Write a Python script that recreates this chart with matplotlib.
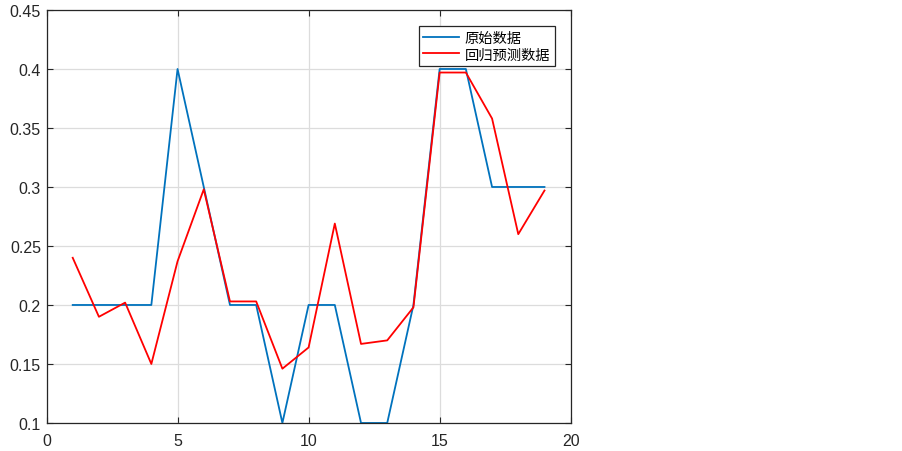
import matplotlib
matplotlib.use("Agg")
import matplotlib.pyplot as plt

plt.rcParams['font.family'] = ['Liberation Sans', 'Noto Sans CJK SC', 'DejaVu Sans']

x = list(range(1, 20))
orig = [0.2, 0.2, 0.2, 0.2, 0.4, 0.3, 0.2, 0.2, 0.1, 0.2,
        0.2, 0.1, 0.1, 0.2, 0.4, 0.4, 0.3, 0.3, 0.3]
pred = [0.240, 0.190, 0.202, 0.150, 0.237, 0.298, 0.203, 0.203, 0.146, 0.164,
        0.269, 0.167, 0.170, 0.198, 0.397, 0.397, 0.358, 0.260, 0.297]
labels = ['原始数据', '回归预测数据']

fig = plt.figure(figsize=(9.03, 4.52), dpi=100)
ax = fig.add_axes([0.0515, 0.062, 0.5805, 0.9137])

ax.plot(x, orig, color='#0072BD', lw=1.3, label=labels[0])
ax.plot(x, pred, color='#FF0000', lw=1.3, label=labels[1])

ax.set_xlim(0, 20)
ax.set_ylim(0.1, 0.45)
ax.set_xticks([0, 5, 10, 15, 20])
ax.set_yticks([0.1, 0.15, 0.2, 0.25, 0.3, 0.35, 0.4, 0.45])
ax.set_yticklabels(['0.1', '0.15', '0.2', '0.25', '0.3', '0.35', '0.4', '0.45'])
ax.grid(True, color='#DCDCDC', lw=0.9)
ax.set_axisbelow(True)
ax.tick_params(direction='in', length=4, width=0.8, labelsize=11.5,
               colors='#262626', top=True, right=True)
ax.tick_params(axis='x', pad=7)
ax.tick_params(axis='y', pad=4)
for s in ax.spines.values():
    s.set_color('#262626')
    s.set_linewidth(0.9)

leg = ax.legend(loc='upper right', bbox_to_anchor=(0.983, 0.978), fancybox=False,
                edgecolor='#262626', framealpha=1,
                handlelength=2.5, borderpad=0.3, labelspacing=0.2,
                handletextpad=0.4, prop={'family': ['Noto Sans CJK SC'], 'size': 10.3})
leg.get_frame().set_linewidth(0.9)

fig.savefig('out.png', dpi=100)
